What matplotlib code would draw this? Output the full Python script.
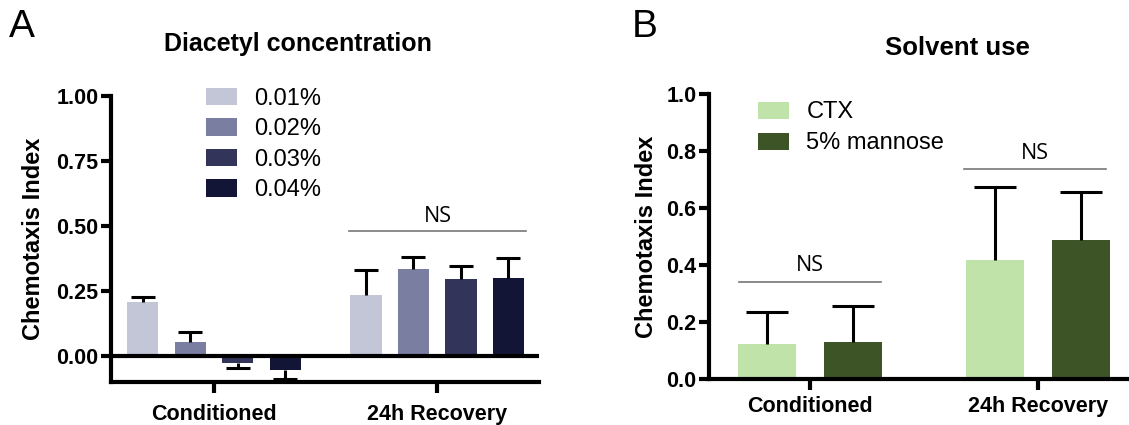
import numpy as np
import matplotlib
matplotlib.use("Agg")
import matplotlib.pyplot as plt

plt.rcParams['font.family'] = ['Liberation Sans', 'DejaVu Sans']

groups = ['Conditioned', '24h Recovery']

# panel A: diacetyl concentration
conc_labels = ['0.01%', '0.02%', '0.03%', '0.04%']
conc_means = [[0.206, 0.236], [0.053, 0.333], [-0.028, 0.295], [-0.054, 0.299]]
conc_errs = [[0.022, 0.095], [0.038, 0.047], [0.019, 0.051], [0.036, 0.079]]
conc_colors = ['#C2C6D7', '#7A7FA2', '#323459', '#121535']

# panel B: solvent use
solv_labels = ['CTX', '5% mannose']
solv_means = [[0.123, 0.418], [0.130, 0.488]]
solv_errs = [[0.111, 0.256], [0.126, 0.168]]
solv_colors = ['#BFE3A9', '#3D5526']

AXW = 3.0


def style_axes(ax, ylim, yticks, fmt, ylabelpad, xpad):
    ax.set_ylim(*ylim)
    ax.set_yticks(yticks)
    ax.set_yticklabels([fmt.format(v) for v in yticks])
    ax.set_xticks(range(len(groups)))
    ax.set_xticklabels(groups)
    for s in ['top', 'right']:
        ax.spines[s].set_visible(False)
    for s in ['left', 'bottom']:
        ax.spines[s].set_linewidth(AXW)
    ax.tick_params(axis='y', length=7.5, width=AXW, pad=1.5, labelsize=15.5)
    ax.tick_params(axis='x', length=8, width=AXW, pad=xpad, labelsize=15.5)
    for lab in ax.get_xticklabels() + ax.get_yticklabels():
        lab.set_fontweight('bold')
    ax.set_ylabel('Chemotaxis Index', fontsize=17, fontweight='bold', labelpad=ylabelpad)


def draw_bars(ax, means, errs, colors, labels, width, step, cap):
    x = np.arange(len(groups))
    n = len(means)
    for i in range(n):
        off = (i - (n - 1) / 2) * step
        m = np.array(means[i])
        e = np.array(errs[i])
        tip = m + np.sign(m) * e
        ax.bar(x + off, m, width, color=colors[i], label=labels[i], zorder=2)
        ax.vlines(x + off, m, tip, color='black', lw=2.2, zorder=3)
        ax.plot(x + off, tip, ls='none', marker='_', ms=cap, mew=2.2, color='black', zorder=3)


def ns_bar(ax, x0, x1, y, dy):
    ax.plot([x0, x1], [y, y], color='#777777', lw=1.2)
    ax.text((x0 + x1) / 2, y + dy, 'NS', ha='center', va='bottom', fontsize=15.5,
            family=['Open Sans', 'DejaVu Sans'])


fig = plt.figure(figsize=(11.29, 4.25), dpi=100)

axA = fig.add_axes([0.0983, 0.1012, 0.3791, 0.6729])
draw_bars(axA, conc_means, conc_errs, conc_colors, conc_labels, 0.141, 0.213, 17)
axA.axhline(0, color='black', lw=AXW, zorder=4)
axA.set_xlim(-0.462, 1.457)
style_axes(axA, (-0.1, 1.0), [0.0, 0.25, 0.5, 0.75, 1.0], '{:.2f}', 8, 8)
ns_bar(axA, 0.606, 1.40, 0.48, 0.015)
axA.legend(loc='upper left', bbox_to_anchor=(0.20, 1.062), frameon=False, fontsize=17,
           handlelength=1.3, handleheight=0.75, handletextpad=0.75, labelspacing=0.36,
           borderaxespad=0)

axB = fig.add_axes([0.628, 0.1082, 0.372, 0.6700])
draw_bars(axB, solv_means, solv_errs, solv_colors, solv_labels, 0.253, 0.378, 30)
axB.set_xlim(-0.443, 1.399)
style_axes(axB, (0.0, 1.0), [0.0, 0.2, 0.4, 0.6, 0.8, 1.0], '{:.1f}', 6, 4)
ns_bar(axB, -0.31, 0.31, 0.341, 0.02)
ns_bar(axB, 0.675, 1.30, 0.736, 0.02)
axB.legend(loc='upper left', bbox_to_anchor=(0.094, 1.008), frameon=False, fontsize=17,
           handlelength=1.3, handleheight=0.75, handletextpad=0.75, labelspacing=0.38,
           borderaxespad=0)

fig.text(0.264, 0.896, 'Diacetyl concentration', ha='center', va='center',
         fontsize=18, fontweight='bold')
fig.text(0.848, 0.886, 'Solvent use', ha='center', va='center',
         fontsize=18.5, fontweight='bold')
fig.text(0.019, 0.936, 'A', ha='center', va='center', fontsize=28)
fig.text(0.571, 0.936, 'B', ha='center', va='center', fontsize=28)

fig.savefig('out.png', dpi=100)
